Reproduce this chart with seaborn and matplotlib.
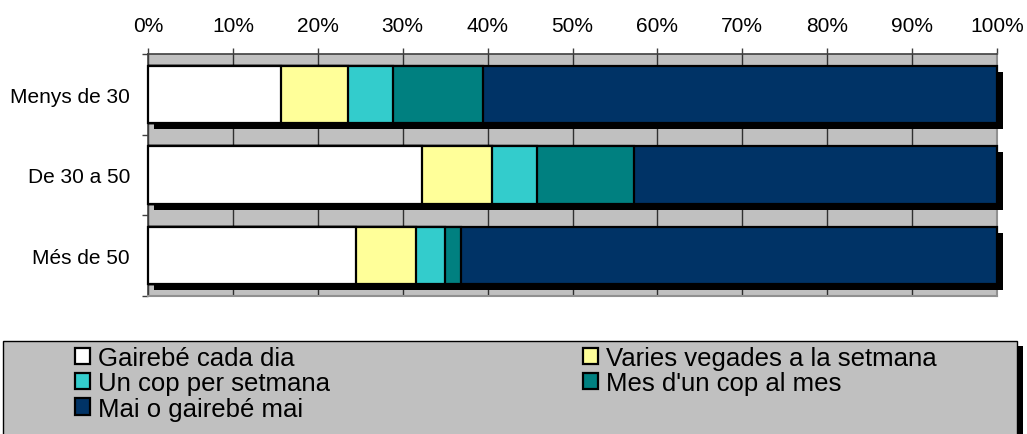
import matplotlib
matplotlib.use("Agg")
import matplotlib.pyplot as plt
import matplotlib.patheffects as pe
from matplotlib.patches import Rectangle, Patch
from matplotlib.ticker import PercentFormatter, FixedLocator
import numpy as np
import pandas as pd
import seaborn as sns

# ---- data ----
categories = ["Menys de 30", "De 30 a 50", "Més de 50"]
series_names = ["Gairebé cada dia", "Varies vegades a la setmana",
                "Un cop per setmana", "Mes d'un cop al mes", "Mai o gairebé mai"]
gairebe_cada_dia = [15.7, 32.3, 24.5]
varies_vegades = [7.9, 8.2, 7.1]
un_cop_setmana = [5.2, 5.3, 3.4]
mes_un_cop_mes = [10.6, 11.4, 1.9]
mai_gairebe_mai = [60.6, 42.8, 63.1]
series_values = [gairebe_cada_dia, varies_vegades, un_cop_setmana,
                 mes_un_cop_mes, mai_gairebe_mai]
colors = ["#FFFFFF", "#FFFF99", "#33CCCC", "#008080", "#003366"]

sns.set_style("white")
plt.rcParams["font.family"] = ["Liberation Sans", "DejaVu Sans"]
plt.rcParams["text.color"] = "black"
plt.rcParams["xtick.color"] = "black"
plt.rcParams["ytick.color"] = "black"
plt.rcParams["xtick.labelcolor"] = "black"
plt.rcParams["ytick.labelcolor"] = "black"

W, H = 1027, 435
fig = plt.figure(figsize=(W / 100, H / 100), dpi=100)
ax = fig.add_axes([148 / W, 1 - 297 / H, (997 - 148) / W, (297 - 55) / H])
ax.set_facecolor("#C0C0C0")

# cumulative stacks, drawn from the longest to the shortest
totals = np.array(series_values)
total_sum = totals.sum(axis=0)
cum = np.cumsum(totals / total_sum * 100.0, axis=0)

px = 72 / 100.0  # points per pixel
shadow = [pe.SimplePatchShadow(offset=(6 * px, -6 * px), shadow_rgbFace="black", alpha=1.0),
          pe.Normal()]

for i in range(len(series_names) - 1, -1, -1):
    df = pd.DataFrame({"cat": categories, "val": cum[i]})
    n_before = len(ax.patches)
    sns.barplot(data=df, x="val", y="cat", orient="h", color=colors[i],
                saturation=1, edgecolor="black", linewidth=1.6, width=0.71,
                errorbar=None, ax=ax, zorder=3)
    new = ax.patches[n_before:]
    for p in new:
        p.set_facecolor(colors[i])
        if i == len(series_names) - 1:
            p.set_path_effects(shadow)
            p.set_clip_on(False)

ax.set_xlim(0, 100)
ax.set_ylim(2.5, -0.5)
ax.set_xlabel("")
ax.set_ylabel("")

# x axis on top
ax.xaxis.set_ticks_position("top")
ax.xaxis.set_label_position("top")
ax.set_xticks(np.arange(0, 101, 10))
ax.xaxis.set_major_formatter(PercentFormatter(decimals=0))
ax.tick_params(axis="x", which="major", direction="out", length=6 * px, width=1,
               color="#404040", labelsize=15, pad=9, top=True, bottom=False,
               labelcolor="black")
ax.grid(axis="x", color="#303030", linewidth=1.0, zorder=1)
ax.grid(axis="y", visible=False)
ax.set_axisbelow(True)

# y axis: category labels, ticks at band boundaries
ax.set_yticks(range(len(categories)))
ax.set_yticklabels(categories)
ax.tick_params(axis="y", which="major", length=0, labelsize=15, pad=13,
               labelcolor="black")
ax.yaxis.set_minor_locator(FixedLocator([-0.5, 0.5, 1.5, 2.5]))
ax.tick_params(axis="y", which="minor", direction="out", length=6 * px,
               width=1, color="#404040", left=True)

for s in ["top", "left"]:
    ax.spines[s].set_color("#404040")
    ax.spines[s].set_linewidth(1.2)
for s in ["right", "bottom"]:
    ax.spines[s].set_color("#909090")
    ax.spines[s].set_linewidth(1.5)

# legend frame
frame = Rectangle((3 / W, -0.1), (1017 - 3) / W, (435 - 342) / H + 0.1,
                  transform=fig.transFigure, facecolor="#C0C0C0",
                  edgecolor="black", linewidth=1.0, zorder=1)
frame.set_path_effects([pe.SimplePatchShadow(offset=(6 * px, -5 * px),
                                              shadow_rgbFace="black", alpha=1.0),
                        pe.Normal()])
fig.add_artist(frame)

handles = [Patch(facecolor=c, edgecolor="black", linewidth=1.6) for c in colors]
leg_kw = dict(frameon=False, fontsize=18.5, handlelength=0.6, handleheight=0.6,
              handletextpad=0.28, labelspacing=0.05, borderpad=0, borderaxespad=0,
              loc="upper left", labelcolor="black")
leg1 = fig.legend([handles[0], handles[2], handles[4]],
                  [series_names[0], series_names[2], series_names[4]],
                  bbox_to_anchor=(75 / W, 1 - 347 / H), **leg_kw)
leg2 = fig.legend([handles[1], handles[3]],
                  [series_names[1], series_names[3]],
                  bbox_to_anchor=(583 / W, 1 - 347 / H), **leg_kw)

fig.savefig("out.png", dpi=100, facecolor="white")
